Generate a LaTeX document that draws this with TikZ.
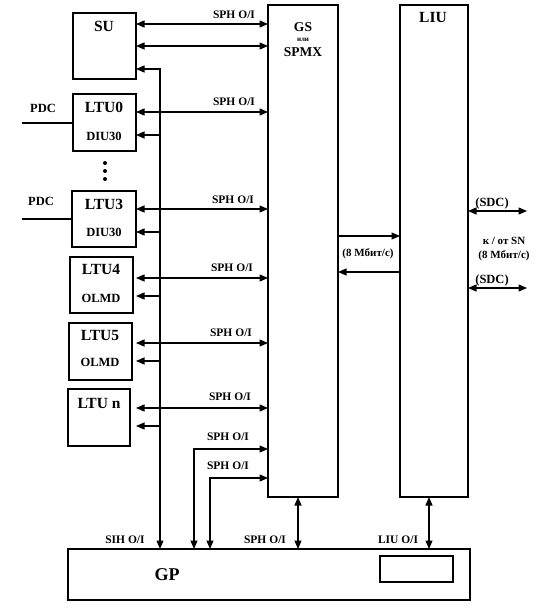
\documentclass[tikz,border=0pt]{standalone}
\usepackage{fontspec}
\setmainfont{Liberation Serif}
\usetikzlibrary{arrows.meta}
\begin{document}
\begin{tikzpicture}[x=1pt,y=-1pt,line width=1.2pt,
  box/.style={draw,rectangle,inner sep=0pt,outer sep=0pt,anchor=north west},
  btxt/.style={font=\bfseries\fontsize{15.5}{17}\selectfont,inner sep=0pt},
  stxt/.style={font=\bfseries\fontsize{12.5}{14}\selectfont,inner sep=0pt},
  lbl/.style={font=\bfseries\fontsize{11.5}{13}\selectfont,inner sep=0pt},
  dar/.style={{Triangle[length=8.5pt,width=7pt]}-{Triangle[length=8.5pt,width=7pt]}},
  sar/.style={-{Triangle[length=8.5pt,width=7pt]}}]
\useasboundingbox (0,0) rectangle (544,610);
% boxes
\node[box,minimum width=63pt,minimum height=66pt] (su) at (73,13) {};
\node[box,minimum width=63pt,minimum height=57pt] (ltu0) at (73,94) {};
\node[box,minimum width=64pt,minimum height=56pt] (ltu3) at (72,191) {};
\node[box,minimum width=63pt,minimum height=56pt] (ltu4) at (70,257) {};
\node[box,minimum width=63pt,minimum height=57pt] (ltu5) at (69,323) {};
\node[box,minimum width=62pt,minimum height=57pt] (ltun) at (68,389) {};
\node[box,minimum width=70pt,minimum height=492pt] (gs) at (268,5) {};
\node[box,minimum width=68pt,minimum height=492pt] (liu) at (400,5) {};
\node[box,minimum width=402pt,minimum height=51pt] (gp) at (68,549) {};
\node[box,minimum width=73pt,minimum height=26pt] (gpr) at (380,556) {};
% box texts
\node[btxt] (tsu) at (104,26) {SU};
\node[btxt] (tltu0) at (104,107) {LTU0};
\node[stxt] (tdiu0) at (104,136) {DIU30};
\node[btxt] (tltu3) at (104,204) {LTU3};
\node[stxt] (tdiu3) at (104,232) {DIU30};
\node[btxt] (tltu4) at (101,269) {LTU4};
\node[stxt] (tolmd4) at (101,298) {OLMD};
\node[btxt] (tltu5) at (100,335) {LTU5};
\node[stxt] (tolmd5) at (100,362) {OLMD};
\node[btxt] (tltun) at (99,403) {LTU n};
\node[btxt,font=\bfseries\fontsize{13.5}{15}\selectfont] (tgs) at (303,27) {GS};
\node[font=\bfseries\fontsize{7}{8}\selectfont,inner sep=0pt] (tili) at (303,40) {или};
\node[btxt,font=\bfseries\fontsize{13.5}{15}\selectfont] (tspmx) at (303,52) {SPMX};
\node[btxt] (tliu) at (433,17) {LIU};
\node[font=\bfseries\fontsize{18}{20}\selectfont,inner sep=0pt] (tgp) at (167,575) {GP};
% dots
\foreach \yy in {163,171,179}
  \fill (105,\yy) circle (2pt);
% PDC lines
\coordinate (pdc0) at (22,123);
\coordinate (pdc3) at (22,219);
\draw (pdc0) -- (ltu0.west |- pdc0);
\draw (pdc3) -- (ltu3.west |- pdc3);
\node[lbl,font=\bfseries\fontsize{12.5}{14}\selectfont] (lpdc0) at (43,108) {PDC};
\node[lbl,font=\bfseries\fontsize{12.5}{14}\selectfont] (lpdc3) at (41,201) {PDC};
% SPH arrows to GS
\foreach \yy in {24,46,112,209,278,343,408}
  \draw[dar] (su.east |- 0,\yy) -- (gs.west |- 0,\yy);
\node[lbl] (l1) at (234,15) {SPH O/I};
\node[lbl] (l2) at (234,102) {SPH O/I};
\node[lbl] (l3) at (233,200) {SPH O/I};
\node[lbl] (l4) at (232,268) {SPH O/I};
\node[lbl] (l5) at (231,333) {SPH O/I};
\node[lbl] (l6) at (230,397) {SPH O/I};
% bus
\coordinate (bus) at (160,69);
\draw[dar] (su.east |- bus) -- (bus) -- (gp.north -| bus);
\foreach \yy in {135,232,296,361,426}
  \draw[sar] (bus |- 0,\yy) -- (ltu0.east |- 0,\yy);
\node[lbl] (lsih) at (125,540) {SIH O/I};
% lower GP->GS lines
\coordinate (c1) at (194,449);
\coordinate (c2) at (210,478);
\draw[dar] (gp.north -| c1) -- (c1) -- (gs.west |- c1);
\draw[dar] (gp.north -| c2) -- (c2) -- (gs.west |- c2);
\node[lbl] (l7) at (228,437) {SPH O/I};
\node[lbl] (l8) at (228,466) {SPH O/I};
% GS-GP, LIU-GP
\coordinate (g1) at (298,0);
\coordinate (g2) at (429,0);
\draw[dar] (gs.south -| g1) -- (gp.north -| g1);
\draw[dar] (liu.south -| g2) -- (gp.north -| g2);
\node[lbl] (l9) at (265,540) {SPH O/I};
\node[lbl] (l10) at (398,540) {LIU O/I};
% GS - LIU
\draw[sar] (gs.east |- 0,236) -- (liu.west |- 0,236);
\draw[sar] (liu.west |- 0,272) -- (gs.east |- 0,272);
\node[lbl,font=\bfseries\fontsize{11}{12}\selectfont] (l11) at (368,254) {(8 Мбит/с)};
% SDC
\coordinate (s1) at (527,211);
\coordinate (s2) at (527,288);
\draw[dar] (liu.east |- s1) -- (s1);
\draw[dar] (liu.east |- s2) -- (s2);
\node[lbl,font=\bfseries\fontsize{12.5}{14}\selectfont] (l12) at (492,203) {(SDC)};
\node[lbl,font=\bfseries\fontsize{12.5}{14}\selectfont] (l13) at (492,280) {(SDC)};
\node[lbl,font=\bfseries\fontsize{11}{12}\selectfont] (l14) at (504,241) {к / от SN};
\node[lbl,font=\bfseries\fontsize{11}{12}\selectfont] (l15) at (504,256) {(8 Мбит/с)};
\end{tikzpicture}
\end{document}
